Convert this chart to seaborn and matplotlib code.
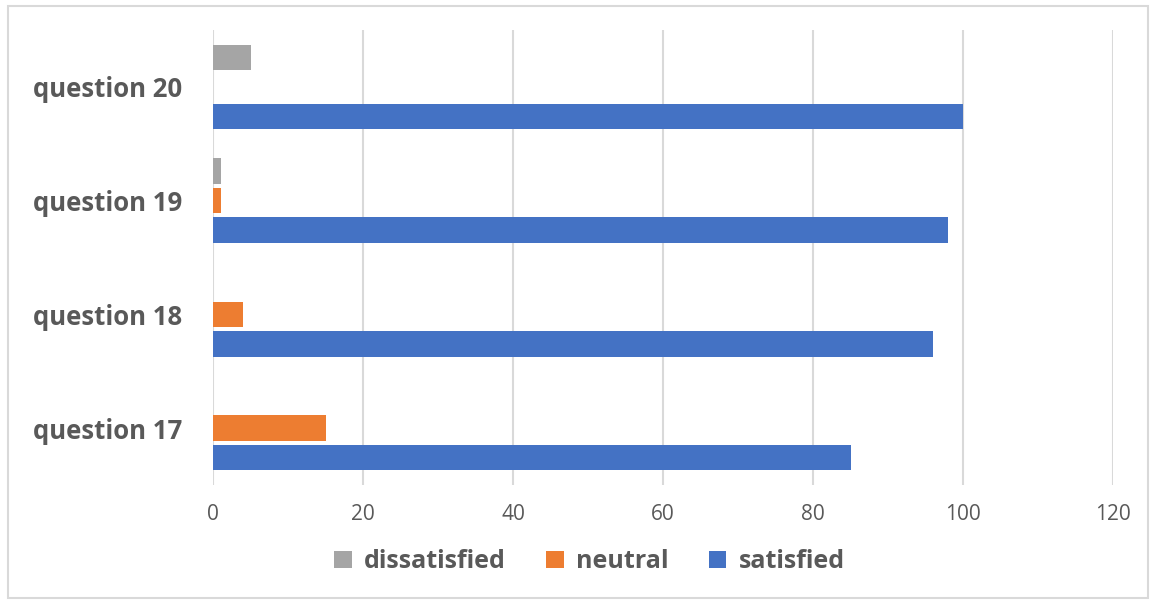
import numpy as np
import pandas as pd
import matplotlib.pyplot as plt
import seaborn as sns

questions = ['question 20', 'question 19', 'question 18', 'question 17']
satisfied = [100, 98, 96, 85]
neutral = [0, 1, 4, 15]
dissatisfied = [5, 1, 0, 0]
groups = ['dissatisfied', 'neutral', 'satisfied']
colors = ['#A5A5A5', '#ED7D31', '#4472C4']

df = pd.DataFrame({
    'question': questions * 3,
    'answer': ['satisfied'] * 4 + ['neutral'] * 4 + ['dissatisfied'] * 4,
    'value': satisfied + neutral + dissatisfied,
})

sns.set_style('white')
plt.rcParams['font.family'] = ['Open Sans', 'DejaVu Sans']

fig = plt.figure(figsize=(11.56, 6.04), dpi=100)
ax = fig.add_axes([213 / 1156, 1 - 485 / 604, 900 / 1156, 455 / 604])

sns.barplot(data=df, x='value', y='question', hue='answer', order=questions,
            hue_order=groups, palette=colors, saturation=1, orient='h',
            width=0.78, gap=0.14, errorbar=None, linewidth=0, ax=ax, legend=True)

ax.set_xlim(0, 120)
ax.set_ylim(3.5, -0.5)
ax.set_xticks(range(0, 121, 20))
ax.xaxis.grid(True, color='#D9D9D9', lw=1.5)
ax.set_axisbelow(True)
sns.despine(ax=ax, left=True, bottom=True)
ax.set_xlabel('')
ax.set_ylabel('')
ax.tick_params(axis='x', length=0, pad=14, labelsize=15, labelcolor='#595959')
ax.tick_params(axis='y', length=0, pad=22, labelsize=18.5, labelcolor='#595959')
for lbl in ax.get_yticklabels():
    lbl.set_fontweight('bold')

handles, labels = ax.get_legend_handles_labels()
ax.legend_.remove()
leg = fig.legend(handles, labels, loc='center', bbox_to_anchor=(0.51, 0.07), ncol=3,
                 frameon=False, handlelength=0.7, handleheight=0.7, handletextpad=0.5,
                 columnspacing=1.6, prop={'size': 18, 'weight': 'bold'})
for t in leg.get_texts():
    t.set_color('#595959')

fig.patches.append(plt.Rectangle((8 / 1156, 6 / 604), 1140 / 1156, 592 / 604,
                                 transform=fig.transFigure, fill=False,
                                 edgecolor='#D9D9D9', lw=1.5))

fig.savefig('out.png', dpi=100)
